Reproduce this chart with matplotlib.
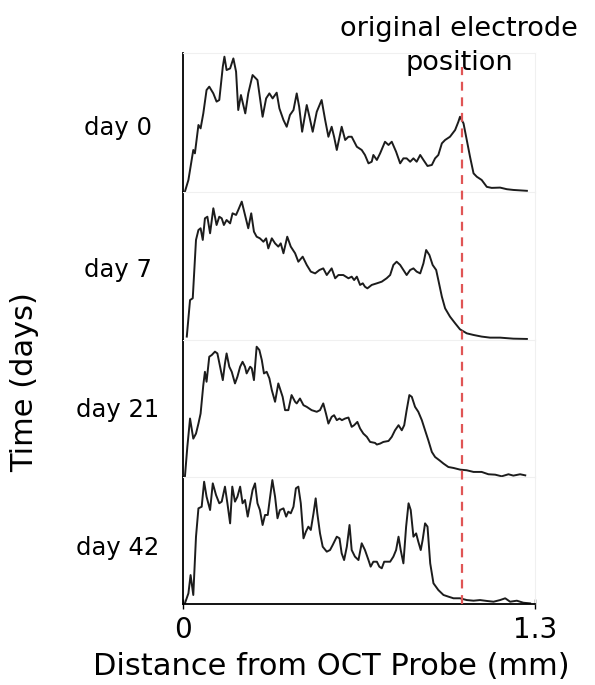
import numpy as np
import matplotlib
matplotlib.use('Agg')
import matplotlib.pyplot as plt

# OCT intensity profiles (distance in mm, intensity in a.u.)
dist_d0 = [0.007, 0.020, 0.038, 0.044, 0.057, 0.065, 0.075, 0.087, 0.097, 0.112, 0.124, 0.134, 0.147, 0.153,
           0.161, 0.174, 0.186, 0.196, 0.204, 0.214, 0.230, 0.241, 0.257, 0.275, 0.294, 0.307, 0.319, 0.331,
           0.346, 0.356, 0.371, 0.383, 0.395, 0.408, 0.420, 0.429, 0.440, 0.457, 0.467, 0.479, 0.494, 0.512,
           0.525, 0.537, 0.549, 0.558, 0.568, 0.586, 0.599, 0.611, 0.623, 0.642, 0.660, 0.672, 0.685, 0.697,
           0.703, 0.716, 0.728, 0.746, 0.759, 0.771, 0.787, 0.802, 0.814, 0.826, 0.839, 0.851, 0.863, 0.876,
           0.888, 0.903, 0.919, 0.931, 0.943, 0.956, 0.968, 0.986, 1.005, 1.017, 1.023, 1.036, 1.048, 1.060,
           1.073, 1.085, 1.103, 1.122, 1.140, 1.171, 1.196, 1.220, 1.270]
int_d0 = [0.2, 8.2, 28.6, 26.3, 45.6, 43.3, 53.5, 69.4, 71.7, 67.1, 61.5, 62.6, 85.3, 92.1,
          83.0, 84.1, 90.9, 81.9, 55.8, 66.0, 53.5, 67.1, 79.6, 76.2, 51.2, 63.7, 67.1, 63.7,
          67.6, 56.9, 49.0, 44.4, 52.4, 55.8, 67.1, 58.0, 41.0, 59.2, 51.2, 41.0, 54.6, 62.6,
          49.0, 37.6, 44.4, 37.6, 28.6, 44.4, 35.4, 37.6, 37.6, 30.8, 28.6, 25.2, 19.5, 20.6,
          25.2, 21.8, 26.3, 34.2, 32.0, 34.2, 27.4, 19.5, 22.9, 22.9, 20.6, 22.9, 20.6, 25.2,
          21.8, 17.7, 18.4, 22.9, 25.2, 33.1, 35.4, 37.6, 42.2, 47.8, 51.2, 46.7, 35.4, 24.0,
          12.7, 10.4, 8.2, 3.5, 2.8, 3.0, 1.9, 1.4, 0.8]

dist_d7 = [0.014, 0.026, 0.036, 0.048, 0.057, 0.065, 0.073, 0.081, 0.090, 0.100, 0.112, 0.124, 0.134, 0.143,
           0.151, 0.161, 0.174, 0.183, 0.196, 0.204, 0.217, 0.229, 0.241, 0.252, 0.262, 0.272, 0.284, 0.297,
           0.307, 0.315, 0.328, 0.340, 0.352, 0.361, 0.371, 0.385, 0.398, 0.414, 0.426, 0.442, 0.457, 0.472,
           0.488, 0.504, 0.518, 0.531, 0.549, 0.562, 0.574, 0.592, 0.611, 0.623, 0.632, 0.642, 0.654, 0.664,
           0.672, 0.681, 0.697, 0.716, 0.734, 0.752, 0.765, 0.777, 0.789, 0.802, 0.814, 0.826, 0.839, 0.851,
           0.863, 0.876, 0.888, 0.898, 0.910, 0.922, 0.935, 0.943, 0.956, 0.968, 0.986, 1.005, 1.023, 1.048,
           1.073, 1.103, 1.134, 1.171, 1.220, 1.270]
int_d7 = [2.3, 27.0, 28.2, 67.6, 74.3, 75.5, 67.6, 82.2, 83.3, 72.1, 89.0, 77.7, 83.3, 82.2,
          77.7, 81.1, 78.8, 85.6, 84.5, 87.8, 93.5, 84.5, 75.5, 85.6, 73.2, 69.8, 68.7, 66.4,
          68.7, 61.9, 68.7, 65.3, 63.1, 65.3, 58.6, 69.8, 63.1, 58.6, 52.9, 56.3, 50.7, 46.2,
          45.0, 47.3, 48.4, 43.9, 48.4, 41.7, 43.9, 43.9, 41.7, 42.8, 40.5, 42.8, 37.2, 38.3,
          36.0, 34.9, 37.2, 38.3, 39.4, 41.7, 43.9, 50.7, 52.9, 50.7, 47.3, 43.9, 47.3, 48.4,
          46.2, 45.0, 51.8, 60.8, 57.4, 50.7, 47.3, 40.5, 29.3, 21.4, 15.8, 11.3, 7.2, 4.5,
          3.4, 2.3, 1.6, 1.6, 0.9, 0.7]

dist_d21 = [0.007, 0.016, 0.026, 0.038, 0.048, 0.057, 0.065, 0.075, 0.081, 0.087, 0.097, 0.106, 0.118, 0.127,
            0.137, 0.147, 0.155, 0.161, 0.171, 0.180, 0.192, 0.201, 0.211, 0.220, 0.229, 0.235, 0.248, 0.254,
            0.262, 0.272, 0.282, 0.291, 0.299, 0.309, 0.319, 0.328, 0.340, 0.352, 0.358, 0.368, 0.377, 0.389,
            0.401, 0.414, 0.420, 0.432, 0.445, 0.457, 0.475, 0.494, 0.506, 0.518, 0.528, 0.537, 0.549, 0.558,
            0.568, 0.578, 0.587, 0.599, 0.611, 0.623, 0.632, 0.644, 0.654, 0.666, 0.679, 0.691, 0.709, 0.716,
            0.728, 0.740, 0.759, 0.771, 0.783, 0.796, 0.808, 0.817, 0.826, 0.836, 0.845, 0.857, 0.869, 0.882,
            0.894, 0.906, 0.919, 0.931, 0.947, 0.962, 0.980, 0.999, 1.023, 1.048, 1.073, 1.103, 1.128, 1.153,
            1.177, 1.202, 1.220, 1.245, 1.264]
int_d21 = [0.0, 22.0, 42.7, 28.0, 31.7, 39.0, 46.3, 67.1, 76.8, 69.5, 87.8, 89.0, 91.5, 90.2,
           80.5, 70.7, 82.9, 90.2, 80.5, 76.8, 68.3, 73.2, 80.5, 84.1, 80.5, 75.6, 80.5, 79.3,
           70.7, 95.1, 92.7, 85.4, 75.6, 76.8, 72.0, 63.4, 54.9, 68.3, 64.6, 58.5, 48.8, 48.8,
           59.8, 54.9, 53.7, 57.3, 52.4, 51.2, 48.8, 47.6, 48.8, 53.7, 46.3, 39.0, 43.9, 45.1,
           41.5, 42.7, 41.5, 42.7, 43.4, 36.6, 37.8, 40.2, 35.4, 31.7, 29.3, 25.6, 24.9, 23.7,
           24.4, 25.6, 26.3, 29.3, 34.1, 37.8, 34.1, 37.8, 48.8, 59.8, 58.5, 51.2, 47.6, 41.5,
           34.1, 26.8, 18.3, 14.6, 12.2, 9.8, 7.3, 6.6, 5.4, 4.9, 3.7, 3.7, 2.0, 1.7,
           0.5, 2.0, 1.0, 2.0, 1.2]

dist_d42 = [0.007, 0.020, 0.028, 0.038, 0.048, 0.057, 0.069, 0.078, 0.087, 0.100, 0.110, 0.122, 0.134, 0.143,
            0.155, 0.164, 0.174, 0.182, 0.192, 0.201, 0.211, 0.220, 0.229, 0.239, 0.248, 0.257, 0.266, 0.275,
            0.284, 0.294, 0.303, 0.313, 0.321, 0.330, 0.340, 0.349, 0.358, 0.371, 0.381, 0.389, 0.398, 0.408,
            0.417, 0.426, 0.435, 0.445, 0.454, 0.463, 0.472, 0.482, 0.490, 0.496, 0.506, 0.516, 0.531, 0.543,
            0.553, 0.568, 0.578, 0.586, 0.595, 0.605, 0.615, 0.623, 0.635, 0.648, 0.660, 0.672, 0.685, 0.693,
            0.703, 0.716, 0.725, 0.734, 0.743, 0.752, 0.765, 0.777, 0.787, 0.796, 0.804, 0.814, 0.824, 0.833,
            0.841, 0.851, 0.861, 0.869, 0.878, 0.885, 0.894, 0.903, 0.913, 0.925, 0.943, 0.962, 0.980, 0.999,
            1.023, 1.048, 1.073, 1.097, 1.122, 1.147, 1.171, 1.190, 1.208, 1.233, 1.257, 1.282]
int_d42 = [0.5, 8.4, 22.8, 7.1, 53.0, 75.3, 76.6, 96.3, 84.5, 74.0, 95.0, 85.8, 79.3, 80.6,
           92.4, 79.3, 63.5, 92.4, 80.6, 84.5, 92.4, 79.3, 81.9, 68.8, 79.3, 89.8, 95.0, 79.3,
           74.0, 62.2, 70.1, 70.1, 83.2, 97.6, 84.5, 67.5, 74.0, 75.3, 68.8, 72.7, 71.4, 76.6,
           91.1, 92.4, 79.3, 51.7, 57.0, 60.9, 58.3, 71.4, 83.2, 71.4, 55.6, 45.1, 41.2, 42.5,
           46.5, 53.0, 51.7, 39.9, 34.6, 45.1, 62.2, 42.5, 37.3, 34.6, 47.8, 42.5, 34.6, 29.4,
           33.3, 33.3, 29.4, 28.1, 33.3, 33.3, 33.3, 37.3, 42.5, 53.0, 42.5, 32.0, 60.9, 79.3,
           74.0, 53.0, 55.6, 49.1, 42.5, 50.4, 63.5, 60.9, 32.0, 16.3, 11.0, 7.1, 5.8, 4.5,
           4.5, 3.1, 2.6, 3.1, 2.4, 1.8, 3.1, 4.5, 1.8, 2.6, 1.0, 0.5]

days = ['day 0', 'day 7', 'day 21', 'day 42']
distances = [dist_d0, dist_d7, dist_d21, dist_d42]
intensities = [int_d0, int_d7, int_d21, int_d42]
electrode_pos = 1.032   # mm
x_max = 1.3

W, H = 595, 685
fig = plt.figure(figsize=(W / 100, H / 100), dpi=100)

# panel edges in pixels (top, bottom), left/right of the plotting area
panels = [(53, 192), (192, 340), (340, 477), (477, 604)]
ytops = [94.6, 100, 100, 100]
left, right = 183, 535
label_y = [128, 270, 410, 548]

for i, (top, bot) in enumerate(panels):
    ax = fig.add_axes([left / W, 1 - bot / H, (right - left) / W, (bot - top) / H])
    ax.plot(distances[i], intensities[i], color='#1c1c1c', lw=1.4)
    ax.set_xlim(0, x_max)
    ax.set_ylim(0, ytops[i])
    ax.set_yticks([])
    ax.patch.set_alpha(0)
    for s in ['top', 'right']:
        ax.spines[s].set_color('#f0f0f0')
        ax.spines[s].set_linewidth(0.8)
    ax.spines['left'].set_linewidth(1.3)
    if i < 3:
        ax.spines['bottom'].set_visible(False)
        ax.set_xticks([])
    else:
        ax.spines['bottom'].set_linewidth(1.3)
        ax.set_xticks([0, x_max])
        ax.set_xticklabels(['0', '1.3'])
        ax.tick_params(axis='x', direction='inout', length=7, width=1, labelsize=20, pad=5)
        ax.set_xlabel('Distance from OCT Probe (mm)', fontsize=22, labelpad=6, x=0.42)
    fig.text(118 / W, 1 - label_y[i] / H, days[i], fontsize=17.5, ha='center', va='center')

# electrode marker running through all panels
ov = fig.add_axes([left / W, 1 - 604 / H, (right - left) / W, (604 - 67) / H])
ov.set_xlim(0, x_max)
ov.axis('off')
ov.axvline(electrode_pos, color='#e05555', lw=1.6, ls=(0, (4, 3)))

fig.text(459 / W, 1 - 46 / H, 'original electrode\nposition', fontsize=19.5, ha='center', va='center',
         linespacing=1.4)
fig.text(25 / W, 1 - 382 / H, 'Time (days)', fontsize=22, rotation=90, ha='center', va='center')

fig.savefig('out.png', dpi=100)
